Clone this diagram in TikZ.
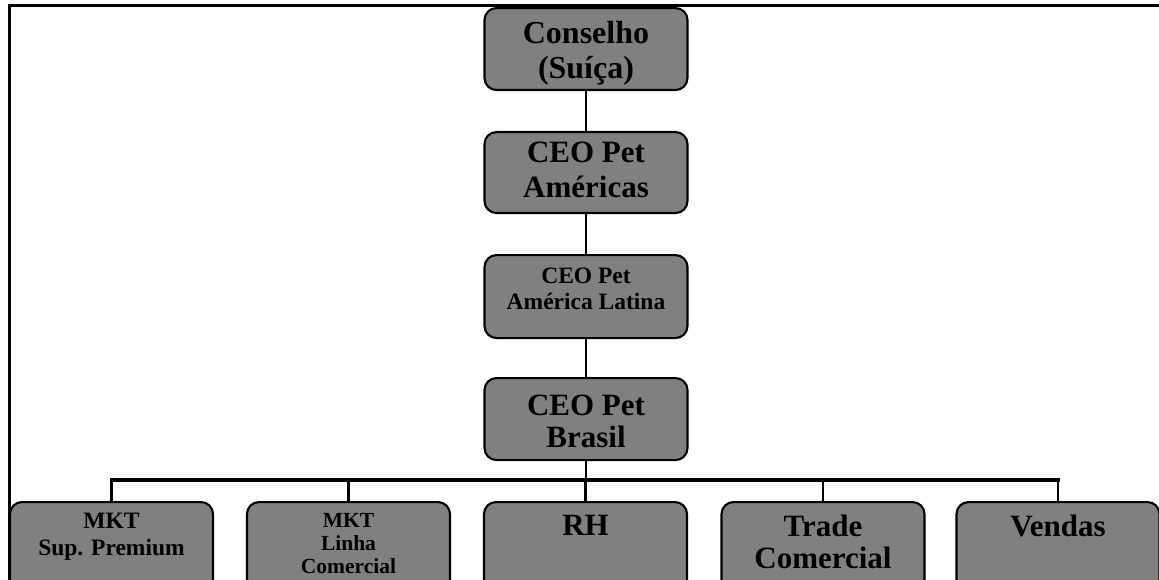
\documentclass[tikz,border=0pt]{standalone}
\usepackage{fontspec}
\setmainfont{Liberation Serif}
\definecolor{boxgray}{RGB}{128,128,128}
% #1 box height, #2 space above first line, #3 font size, #4 line skip, #5 text
\newcommand\orgtext[5]{\parbox[t][#1pt][t]{200pt}{\centering\vspace*{#2pt}\fontsize{#3}{#4}\selectfont\bfseries #5\par}}
\tikzset{
  orgbox/.style={draw=black, line width=2.1pt, fill=boxgray, rounded corners=12pt,
    inner sep=0pt, anchor=north, minimum width=203pt},
  link/.style={line width=2.6pt},
  bus/.style={line width=3.6pt, line cap=rect}
}
\begin{document}
\begin{tikzpicture}[x=1pt,y=-1pt]
\useasboundingbox (0,0) rectangle (1159,580);
\clip (0,0) rectangle (1159,580);
% outer frame
\draw[line width=3pt] (9,6) rectangle (1180,600);
% management chain
\node[orgbox] (conselho) at (586,7)   {\orgtext{82}{13}{32}{35}{Conselho\\(Suíça)}};
\node[orgbox] (americas) at (586,131) {\orgtext{81}{10}{31}{35}{CEO Pet\\Américas}};
\node[orgbox] (latina)   at (586,254) {\orgtext{83}{13}{23.5}{26}{CEO Pet\\América Latina}};
\node[orgbox] (brasil)   at (586,377) {\orgtext{82}{17}{31}{32}{CEO Pet\\Brasil}};
% departments
\node[orgbox] (mktsup)   at (111.5,501) {\orgtext{100}{11}{23.5}{27}{MKT\\Sup. Premium}};
\node[orgbox] (mktlinha) at (348.5,501) {\orgtext{100}{11}{21.5}{23}{MKT\\Linha\\Comercial}};
\node[orgbox] (rh)       at (585.5,501) {\orgtext{100}{13}{31}{32}{RH}};
\node[orgbox] (trade)    at (823,501)   {\orgtext{100}{13}{31}{32}{Trade\\Comercial}};
\node[orgbox] (vendas)   at (1058,501)  {\orgtext{100}{13}{31}{32}{Vendas}};
% connectors
\draw[link] (conselho.south) -- (americas.north);
\draw[link] (americas.south) -- (latina.north);
\draw[link] (latina.south) -- (brasil.north);
\coordinate (busy) at (586,480);
\draw[link] (brasil.south) -- (busy);
\draw[bus] (mktsup.north |- busy) -- (vendas.north |- busy);
\foreach \k in {mktsup,mktlinha,rh,trade,vendas}
  \draw[link] (\k.north |- busy) -- (\k.north);
\end{tikzpicture}
\end{document}
